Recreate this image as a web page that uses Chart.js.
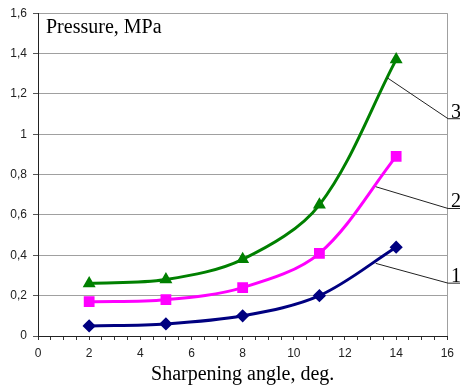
<!DOCTYPE html>
<html><head><meta charset="utf-8">
<script src="https://cdn.jsdelivr.net/npm/chart.js@4/dist/chart.umd.min.js"></script>
<style>html,body{margin:0;padding:0;background:#fff}#w{width:460px;height:386px}</style>
</head><body><div id="w"><canvas id="c" width="460" height="386"></canvas></div>
<script>
const angles = [2, 5, 8, 11, 14];
const series1 = [0.05, 0.06, 0.10, 0.20, 0.44];
const series2 = [0.17, 0.18, 0.24, 0.41, 0.89];
const series3 = [0.26, 0.28, 0.38, 0.65, 1.37];
const curveLabels = ['1', '2', '3'];
const leaderFromX = [13.2, 13.2, 13.65];
const leaderFromY = [0.36, 0.74, 1.28];
const leaderToX = [16.03, 16.03, 16.03];
const leaderToY = [0.262, 0.632, 1.077];
const xTickValues = [0, 2, 4, 6, 8, 10, 12, 14, 16];
const yTickLabels = {0:'0', 0.2:'0,2', 0.4:'0,4', 0.6:'0,6', 0.8:'0,8', 1:'1', 1.2:'1,2', 1.4:'1,4', 1.6:'1,6'};
const yTitle = 'Pressure, MPa';
const xTitle = 'Sharpening angle, deg.';

function pts(ys){ return angles.map((x,i)=>({x, y: ys[i]})); }

const annot = {
  id: 'annot',
  afterDraw(chart){
    const {ctx, scales:{x, y}, chartArea} = chart;
    ctx.save();
    ctx.fillStyle = '#000';
    ctx.font = '20px "Liberation Serif", "Times New Roman", serif';
    ctx.textBaseline = 'middle';
    ctx.fillText(yTitle, chartArea.left + 8, chartArea.top + 15);
    ctx.strokeStyle = '#222';
    ctx.lineWidth = 1;
    for (let i = 0; i < curveLabels.length; i++) {
      const x0 = x.getPixelForValue(leaderFromX[i]), y0 = y.getPixelForValue(leaderFromY[i]);
      const x1 = x.getPixelForValue(leaderToX[i]), y1 = y.getPixelForValue(leaderToY[i]);
      ctx.beginPath();
      ctx.moveTo(x0, y0); ctx.lineTo(x1, y1); ctx.lineTo(x1 + 14, y1);
      ctx.stroke();
      ctx.textBaseline = 'alphabetic';
      ctx.fillText(curveLabels[i], x1 + 3, y1 - 1);
    }
    ctx.restore();
  }
};

new Chart(document.getElementById('c'), {
  type: 'line',
  data: {
    datasets: [
      {data: pts(series1), borderColor: '#000080', backgroundColor: '#000080', pointStyle: 'rectRot', pointRadius: 4.5, borderWidth: 3, tension: 0.33},
      {data: pts(series2), borderColor: '#ff00ff', backgroundColor: '#ff00ff', pointStyle: 'rect', pointRadius: 5.5, borderWidth: 3, tension: 0.33},
      {data: pts(series3), borderColor: '#008000', backgroundColor: '#008000', pointStyle: 'triangle', pointRadius: 4.5, borderWidth: 3, tension: 0.33}
    ]
  },
  options: {
    responsive: false, animation: false,
    layout: {padding: {top: 12, right: 12, left: 0, bottom: 0}},
    plugins: {legend: {display: false}, tooltip: {enabled: false}},
    elements: {point: {borderWidth: 1}},
    scales: {
      x: {
        type: 'linear', min: 0, max: 16,
        afterFit(s){ s.height = 50; },
        afterBuildTicks(s){
          const t = []; for (let v = 0; v <= 16; v += 0.5) t.push({value: v}); s.ticks = t;
        },
        ticks: {
          autoSkip: false, maxRotation: 0, padding: 6,
          color: '#222', font: {family: 'Liberation Sans, Arial, sans-serif', size: 12},
          callback: (v) => xTickValues.includes(v) ? String(v) : ''
        },
        grid: {
          drawOnChartArea: true,
          color: (c) => (c.tick && c.tick.value === 16) ? '#a0a0a0' : 'rgba(0,0,0,0)',
          tickColor: '#333', tickLength: 4, lineWidth: 1
        },
        border: {display: true, color: '#222', width: 1},
        title: {display: true, text: xTitle, color: '#000', padding: {top: 0, bottom: 0},
          font: {family: 'Liberation Serif, Times New Roman, serif', size: 20, lineHeight: 1.1}}
      },
      y: {
        min: 0, max: 1.6,
        afterFit(s){ s.width = 38; },
        ticks: {
          stepSize: 0.2, padding: 6, color: '#222',
          font: {family: 'Liberation Sans, Arial, sans-serif', size: 12},
          callback: (v) => { const k = Math.round(v*10)/10; return yTickLabels[k] !== undefined ? yTickLabels[k] : ''; }
        },
        grid: {color: '#a0a0a0', tickColor: '#555', tickLength: 5, lineWidth: 1},
        border: {display: true, color: '#222', width: 1}
      }
    }
  },
  plugins: [annot]
});
</script></body></html>
